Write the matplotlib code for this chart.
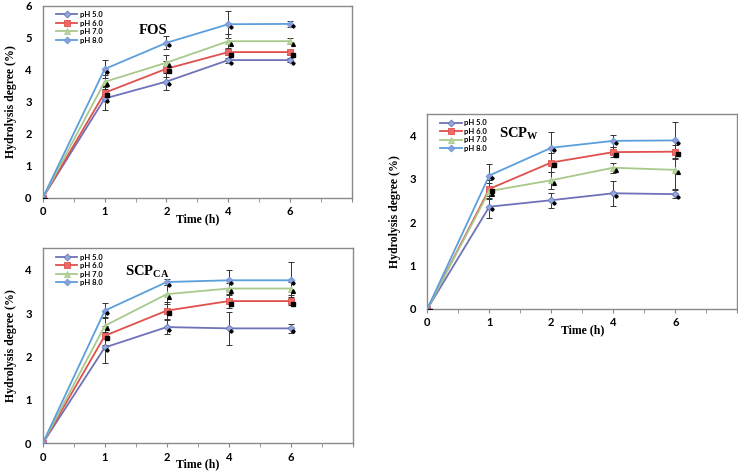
import matplotlib
matplotlib.use('Agg')
import matplotlib.pyplot as plt
import matplotlib.transforms as mtransforms
import numpy as np

plt.rcParams['mathtext.fontset'] = 'custom'
plt.rcParams['mathtext.rm'] = 'Liberation Serif:bold'
plt.rcParams['mathtext.bf'] = 'Liberation Serif:bold'

times = ['0', '1', '2', '4', '6']
series = ['pH 5.0', 'pH 6.0', 'pH 7.0', 'pH 8.0']

fos = {
    'pH 5.0': [0, 3.10, 3.63, 4.30, 4.30],
    'pH 6.0': [0, 3.28, 4.03, 4.55, 4.55],
    'pH 7.0': [0, 3.62, 4.22, 4.89, 4.89],
    'pH 8.0': [0, 4.02, 4.84, 5.42, 5.43],
}
fos_err = {
    'pH 5.0': [0, 0.35, 0.27, 0.08, 0.06],
    'pH 6.0': [0, 0.20, 0.25, 0.10, 0.08],
    'pH 7.0': [0, 0.22, 0.23, 0.22, 0.10],
    'pH 8.0': [0, 0.27, 0.20, 0.42, 0.10],
}
scp_ca = {
    'pH 5.0': [0, 2.21, 2.68, 2.65, 2.65],
    'pH 6.0': [0, 2.48, 3.06, 3.28, 3.28],
    'pH 7.0': [0, 2.71, 3.44, 3.57, 3.57],
    'pH 8.0': [0, 3.06, 3.72, 3.76, 3.76],
}
scp_ca_err = {
    'pH 5.0': [0, 0.35, 0.16, 0.38, 0.11],
    'pH 6.0': [0, 0.22, 0.20, 0.15, 0.10],
    'pH 7.0': [0, 0.20, 0.22, 0.12, 0.15],
    'pH 8.0': [0, 0.18, 0.06, 0.23, 0.43],
}
scp_w = {
    'pH 5.0': [0, 2.36, 2.51, 2.67, 2.65],
    'pH 6.0': [0, 2.77, 3.38, 3.62, 3.63],
    'pH 7.0': [0, 2.72, 2.97, 3.26, 3.21],
    'pH 8.0': [0, 3.08, 3.72, 3.88, 3.89],
}
scp_w_err = {
    'pH 5.0': [0, 0.25, 0.17, 0.29, 0.10],
    'pH 6.0': [0, 0.20, 0.22, 0.12, 0.15],
    'pH 7.0': [0, 0.18, 0.20, 0.12, 0.43],
    'pH 8.0': [0, 0.26, 0.36, 0.14, 0.42],
}

line_colors = {'pH 5.0': '#6e72b8', 'pH 6.0': '#e0504c', 'pH 7.0': '#a9c98c', 'pH 8.0': '#5b9fdc'}
face_colors = {'pH 5.0': '#8eaadd', 'pH 6.0': '#ec6b68', 'pH 7.0': '#b7d59c', 'pH 8.0': '#9a97d8'}
markers = {'pH 5.0': 'D', 'pH 6.0': 's', 'pH 7.0': '^', 'pH 8.0': 'D'}
msizes = {'pH 5.0': 3.5, 'pH 6.0': 5, 'pH 7.0': 4.5, 'pH 8.0': 3.5}

fig = plt.figure(figsize=(7.38, 4.71), dpi=100)

tick_font = dict(family='Lato', weight='bold', size=8)
serif = 'Liberation Serif'


def panel(rect, data, err, ymax, yticks, title, title_pos):
    ax = fig.add_axes(rect)
    x = np.arange(len(times))
    shadow = mtransforms.offset_copy(ax.transData, fig=fig, x=1.8, y=-1.8, units='points')
    for s in series:
        ax.errorbar(x, data[s], yerr=err[s], fmt='none', ecolor='#333333',
                    elinewidth=0.7, capsize=2.3, capthick=0.7, zorder=2)
        ax.plot(x, data[s], color=line_colors[s], lw=1.3, marker=markers[s],
                ms=msizes[s], mfc=face_colors[s], mec=line_colors[s], mew=0.6,
                label=s, zorder=3)
        ax.plot(x, data[s], ls='none', marker=markers[s], ms=msizes[s] - 1.8,
                color='black', transform=shadow, zorder=4)
    ax.set_xlim(0, 5)
    ax.set_ylim(0, ymax)
    ax.set_xticks(np.arange(0, 6))
    ax.set_xticklabels(times + [''])
    ax.set_xticks(np.arange(0.5, 5, 1), minor=True)
    ax.set_yticks(yticks)
    ax.tick_params(axis='x', which='both', direction='out', length=3, color='#888888', pad=3)
    ax.tick_params(axis='y', direction='out', length=0, pad=8)
    for lab in ax.get_xticklabels() + ax.get_yticklabels():
        lab.set_fontproperties(tick_font)
    for sp in ax.spines.values():
        sp.set_color('#8a8a8a')
        sp.set_linewidth(1.0)
    ax.set_xlabel('Time (h)', family=serif, weight='bold', fontsize=8.5, labelpad=-3)
    ax.set_ylabel('Hydrolysis degree (%)', family=serif, weight='bold', fontsize=8.5, labelpad=6)
    ax.text(title_pos[0], title_pos[1], title, transform=ax.transAxes,
            family=serif, weight='bold', fontsize=10.5, ha='left', va='center')
    ax.legend(loc='upper left', frameon=False, prop=dict(family='Lato', weight='bold', size=5.5),
              handlelength=2.8, handletextpad=0.3, labelspacing=0.2,
              bbox_to_anchor=(0.025, 1.0), borderaxespad=0.3)
    return ax


panel([0.058, 0.580, 0.419, 0.408], fos, fos_err, 6, range(0, 7), 'FOS', (0.31, 0.87))
panel([0.058, 0.059, 0.420, 0.414], scp_ca, scp_ca_err, 4.5, range(0, 5), r'SCP$_{\mathrm{CA}}$', (0.265, 0.88))
panel([0.579, 0.344, 0.420, 0.414], scp_w, scp_w_err, 4.5, range(0, 5), r'SCP$_{\mathrm{W}}$', (0.232, 0.90))

fig.savefig('out.png', dpi=100)
